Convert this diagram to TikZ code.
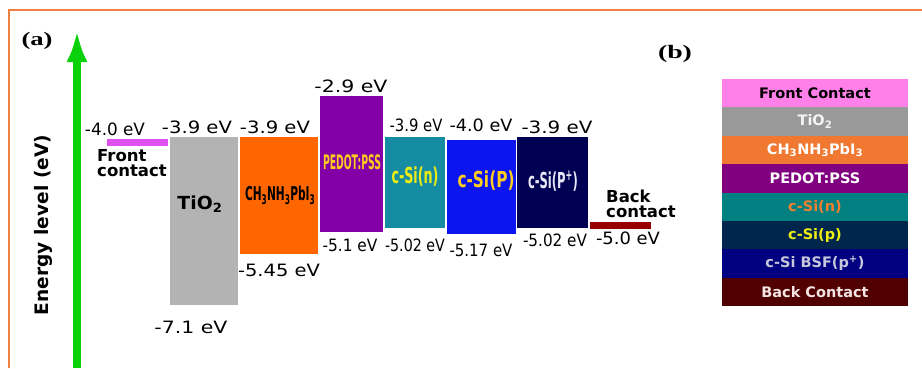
\documentclass[tikz,border=0pt]{standalone}
\usepackage{fontspec}
\usepackage{graphicx}
\setmainfont{DejaVu Sans}
\newfontfamily\serifbold{Liberation Serif}[BoldFont=* Bold]
\usetikzlibrary{arrows.meta}
\newcommand\fw[2]{\resizebox{#1pt}{\height}{#2}}
\newcommand\fsz[1]{\fontsize{#1}{#1}\selectfont}
\definecolor{frameor}{RGB}{240,128,64}
\definecolor{arrgreen}{RGB}{10,210,10}
\definecolor{frontbar}{RGB}{222,80,240}
\definecolor{tiogray}{RGB}{179,179,179}
\definecolor{perov}{RGB}{255,102,0}
\definecolor{pedot}{RGB}{130,0,165}
\definecolor{csin}{RGB}{22,140,162}
\definecolor{csip}{RGB}{12,20,240}
\definecolor{csipp}{RGB}{0,0,82}
\definecolor{backbar}{RGB}{150,0,0}
\definecolor{goldtx}{RGB}{255,205,30}
\definecolor{limetx}{RGB}{238,238,20}
\definecolor{paletx}{RGB}{232,232,248}
% right panel
\definecolor{rfront}{RGB}{255,128,232}
\definecolor{rtio}{RGB}{153,153,153}
\definecolor{rperov}{RGB}{240,120,48}
\definecolor{rpedot}{RGB}{128,0,128}
\definecolor{rcsin}{RGB}{0,128,128}
\definecolor{rcsip}{RGB}{0,38,77}
\definecolor{rbsf}{RGB}{0,0,128}
\definecolor{rback}{RGB}{80,0,0}
\definecolor{rnor}{RGB}{240,128,48}
\definecolor{rbsftx}{RGB}{200,200,220}
\definecolor{rbacktx}{RGB}{245,228,228}
\begin{document}
\begin{tikzpicture}[x=1pt,y=-1pt,
  lv/.style={inner sep=0pt, font=\fsz{17}},
  bl/.style={inner sep=0pt, font=\fontsize{16.5}{15.5}\selectfont\bfseries, align=left},
  inbox/.style={inner sep=0pt, font=\bfseries},
  plabel/.style={inner sep=0pt, font=\serifbold\bfseries\fsz{19}},
  row/.style={minimum width=186pt, minimum height=28.4pt, inner sep=0pt, outer sep=0pt,
    font=\fsz{14.5}\bfseries, anchor=north west}]
\useasboundingbox (0,0) rectangle (922,368);
% frame
\draw[frameor, line width=1.5pt] (9,368) -- (9,10) -- (922,10);
% labels a, b
\node[plabel] (la) at (37,41) {\fw{31}{(a)}};
\node[plabel] (lb) at (675,54) {\fw{34}{(b)}};
% axis arrow
\coordinate (ab) at (77,368);
\coordinate (at) at (77,30);
\draw[arrgreen, line width=8pt, -{Latex[width=21pt,length=32pt]}] (ab) -- (at);
\node[inner sep=0pt, rotate=90, font=\fsz{17.5}\bfseries] (axl) at (43,225) {\resizebox{180pt}{!}{Energy level (eV)}};
% bands
\fill[frontbar] (107,139) rectangle (168,146);
\fill[tiogray] (170,137) rectangle (238,305);
\fill[perov] (240,137) rectangle (318,254);
\fill[pedot] (320,96) rectangle (383,232);
\fill[csin] (385,137) rectangle (445,228);
\fill[csip] (447,140) rectangle (516,234);
\fill[csipp] (517,137) rectangle (588,228);
\fill[backbar] (590,222) rectangle (651,229);
% texts inside boxes
\node[inbox, font=\fsz{18}\bfseries] (ttio) at (200,204) {\fw{45}{TiO\textsubscript{2}}};
\node[inbox, font=\fsz{19}\bfseries] (tper) at (280,195) {\fw{70}{CH\textsubscript{3}NH\textsubscript{3}PbI\textsubscript{3}}};
\node[inbox, text=goldtx, font=\fsz{20}\bfseries] (tped) at (352,162) {\fw{58}{PEDOT:PSS}};
\node[inbox, text=limetx, font=\fsz{22}\bfseries] (tcn) at (415,177) {\fw{47}{c-Si(n)}};
\node[inbox, text=goldtx, font=\fsz{22}\bfseries] (tcp) at (486,181) {\fw{57}{c-Si(P)}};
\node[inbox, text=paletx, font=\fsz{22}\bfseries] (tcpp) at (553,181) {\fw{50}{c-Si(P\textsuperscript{+})}};
% contacts text
\node[bl] (tfront) at (132,163) {Front\\contact};
\node[bl] (tback) at (641,204) {Back\\contact};
% energy labels
\node[lv] (e1) at (115,129) {\fw{60}{-4.0 eV}};
\node[lv] (e2) at (197,127) {\fw{70}{-3.9 eV}};
\node[lv] (e3) at (275,127) {\fw{70}{-3.9 eV}};
\node[lv] (e4) at (351,86) {\fw{73}{-2.9 eV}};
\node[lv] (e5) at (416,125) {\fw{53}{-3.9 eV}};
\node[lv] (e6) at (481,125) {\fw{63}{-4.0 eV}};
\node[lv] (e7) at (557,127) {\fw{71}{-3.9 eV}};
\node[lv] (f1) at (191,327) {\fw{73}{-7.1 eV}};
\node[lv] (f2) at (279,270) {\fw{82}{-5.45 eV}};
\node[lv] (f3) at (350,245) {\fw{55}{-5.1 eV}};
\node[lv] (f4) at (415,245) {\fw{60}{-5.02 eV}};
\node[lv] (f5) at (481,250) {\fw{63}{-5.17 eV}};
\node[lv] (f6) at (555,240) {\fw{64}{-5.02 eV}};
\node[lv] (f7) at (628,238) {\fw{64}{-5.0 eV}};
% right panel
\node[row, fill=rfront, text=black] (r1) at (722,79) {Front Contact};
\node[row, fill=rtio, text=white!92!gray] (r2) at (722,107.4) {TiO\textsubscript{2}};
\node[row, fill=rperov, text=white] (r3) at (722,135.8) {CH\textsubscript{3}NH\textsubscript{3}PbI\textsubscript{3}};
\node[row, fill=rpedot, text=white] (r4) at (722,164.2) {PEDOT:PSS};
\node[row, fill=rcsin, text=rnor] (r5) at (722,192.6) {c-Si(n)};
\node[row, fill=rcsip, text=limetx] (r6) at (722,221) {c-Si(p)};
\node[row, fill=rbsf, text=rbsftx] (r7) at (722,249.4) {c-Si BSF(p\textsuperscript{+})};
\node[row, fill=rback, text=rbacktx] (r8) at (722,277.8) {Back Contact};
\end{tikzpicture}
\end{document}
